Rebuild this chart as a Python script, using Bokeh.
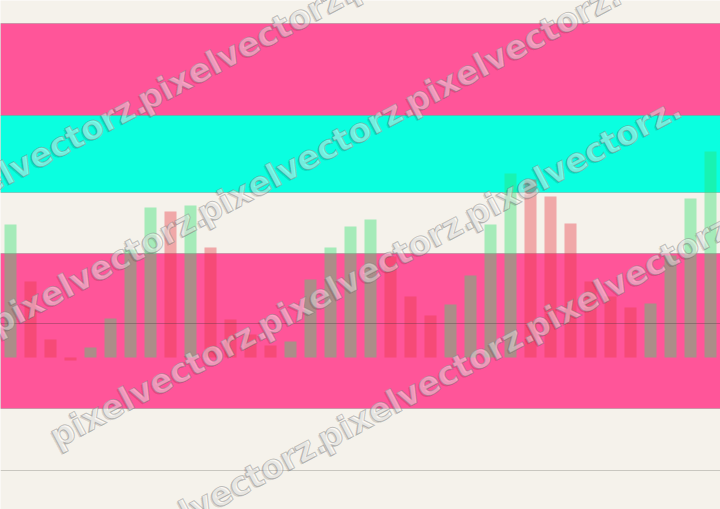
import math
from bokeh.plotting import figure
from bokeh.models import BoxAnnotation, Span, Range1d, ColumnDataSource
from bokeh.core.properties import value
from bokeh.embed import file_html
from bokeh.resources import INLINE

# ---- data ----
values = [66.5, 38, 9, -1.5, 5, 19.5, 54, 75, 73, 76, 55, 19,
          11.5, 6, 8, 39, 55, 65.5, 69, 50.5, 30.5, 21, 26.5, 41,
          66.5, 92, 89, 80.5, 67, 38, 30.5, 25, 27, 51, 79.5, 103]
index = list(range(len(values)))
band_tops = [167, 121, 52]
band_bottoms = [121, 82.5, -25.5]
band_kinds = ["pink", "cyan", "pink"]
ref_level = 17
floor_level = -56.5
watermark = "pixelvectorz."

# ---- styles ----
CREAM = "#f5f2eb"
BAND_COLORS = {"pink": "#ff5599", "cyan": "#0affe0"}
UP = "#2ee26f"
DOWN = "#e83943"

W, H = 720, 509

colors = [UP] + [UP if values[i] >= values[i - 1] else DOWN for i in range(1, len(values))]
src = ColumnDataSource(dict(x=index, top=values, color=colors))

p = figure(width=W, height=H, output_backend="svg", toolbar_location=None,
           x_axis_type=None, y_axis_type=None,
           x_range=Range1d(-10 / 20, (W - 10) / 20),
           y_range=Range1d((357 - H) / 2, 357 / 2),
           min_border=0, background_fill_color=CREAM, border_fill_color=CREAM,
           outline_line_color=None)
p.grid.visible = False
p.extra_x_ranges = {"px": Range1d(0, W)}
p.extra_y_ranges = {"px": Range1d(H, 0)}

for t, b, k in zip(band_tops, band_bottoms, band_kinds):
    p.add_layout(BoxAnnotation(top=t, bottom=b, fill_color=BAND_COLORS[k], fill_alpha=1.0,
                               line_color="#777777", line_alpha=0.35, line_width=1,
                               level="underlay"))

p.vbar(x="x", top="top", bottom=0, width=0.6, fill_color="color", fill_alpha=0.4,
       line_color=None, source=src)

p.add_layout(Span(location=ref_level, dimension="width", line_color="#333333",
                  line_alpha=0.3, line_width=1))
p.add_layout(Span(location=floor_level, dimension="width", line_color="#c9c7c0",
                  line_alpha=1.0, line_width=1))

# ---- watermark (rotated tiling) ----
theta = math.radians(28)
d = (math.cos(theta), -math.sin(theta))
n = (math.sin(theta), math.cos(theta))
wx, wy = [], []
for r in range(4):
    v = 155 + 128 * r
    for k in range(4):
        u = -160 + 235 * k
        if u > 500:
            continue
        wx.append(u * d[0] + v * n[0])
        wy.append(u * d[1] + v * n[1])
wt = [watermark] * len(wx)
common = dict(angle=28, angle_units="deg", text_font=value("DejaVu Sans"),
              text_font_style="bold", text_font_size="33px", text_align="left",
              text_baseline="middle", x_range_name="px", y_range_name="px")
shadow = p.text(x=wx, y=wy, text=wt, text_color="black", text_alpha=0.12,
                x_offset=-1.5, y_offset=1.5, **common)
face = p.text(x=wx, y=wy, text=wt, text_color="white", text_alpha=0.45,
              text_outline_color="#7a7a7a", **common)
shadow.level = "overlay"
face.level = "overlay"

open("out.html", "w").write(file_html(p, INLINE))
